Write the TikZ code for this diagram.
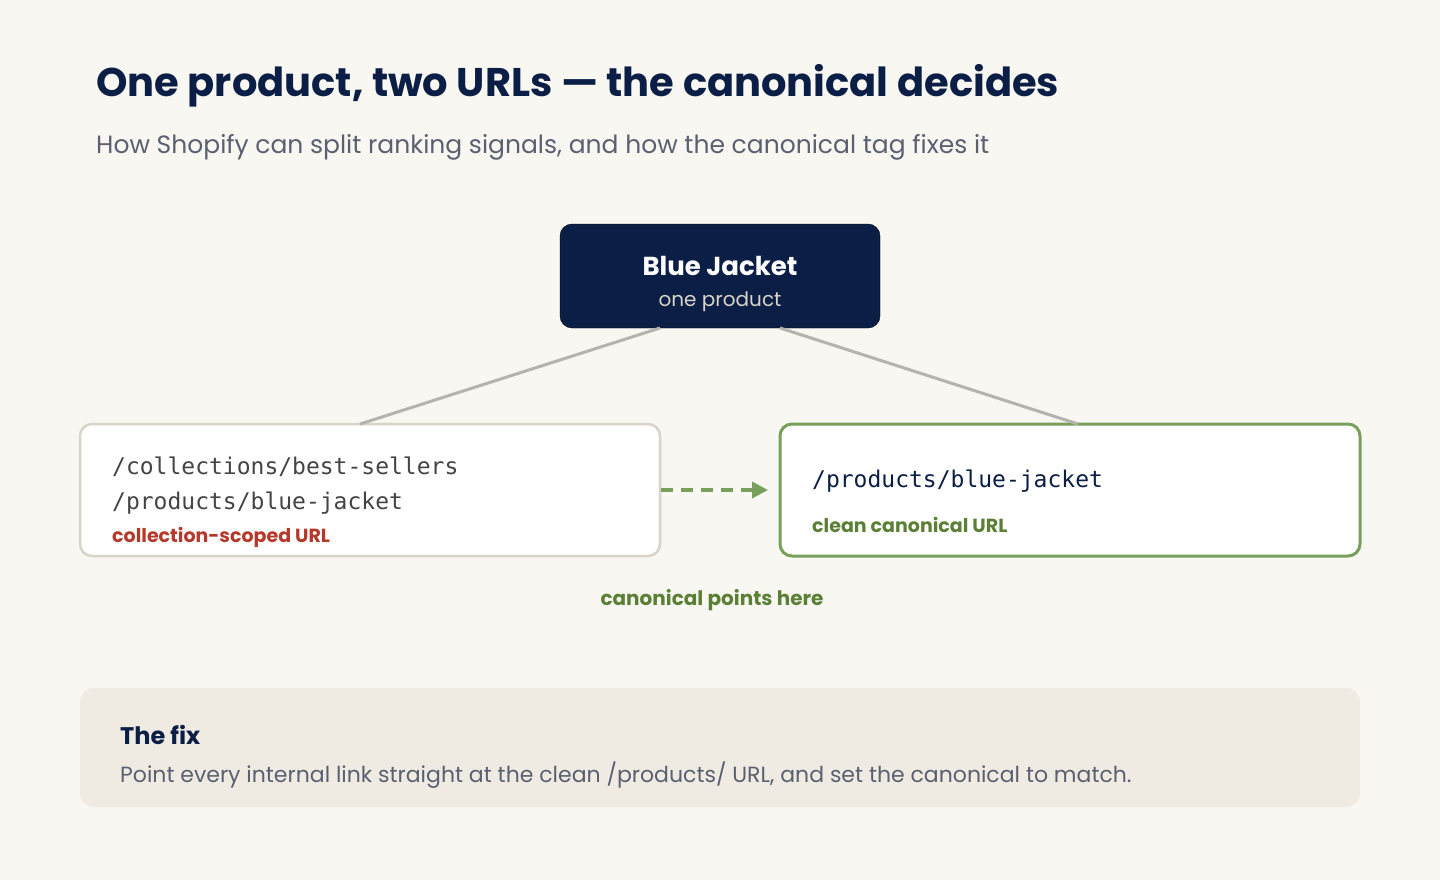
\documentclass[tikz,border=0pt]{standalone}
\usepackage{fontspec}
\setmainfont{Poppins}
\setmonofont{DejaVu Sans Mono}
\usetikzlibrary{arrows.meta}
\definecolor{bg}{HTML}{F8F7F2}
\definecolor{navy}{HTML}{0B1E45}
\definecolor{sub}{HTML}{5A6070}
\definecolor{lgray}{HTML}{B5B3AE}
\definecolor{lbord}{HTML}{D9D4C8}
\definecolor{red}{HTML}{B5392A}
\definecolor{gbord}{HTML}{77A05A}
\definecolor{gtext}{HTML}{5A7F35}
\definecolor{fixbg}{HTML}{EFEBE3}
\definecolor{mono}{HTML}{444444}
\begin{document}
\begin{tikzpicture}[x=1pt,y=-1pt,
  box/.style={rounded corners=12pt,line width=2.5pt},
  conn/.style={draw=lgray,line width=3pt},
  txt/.style={anchor=west,inner sep=0pt}]
\fill[bg] (0,0) rectangle (1440,880);
\node[txt,font=\bfseries\fontsize{40}{48}\selectfont,text=navy] (title) at (96,86) {One product, two URLs — the canonical decides};
\node[txt,font=\fontsize{25}{30}\selectfont,text=sub] (subt) at (96,147) {How Shopify can split ranking signals, and how the canonical tag fixes it};
% top node
\draw[fill=navy,rounded corners=12pt] (560,224) rectangle (880,328);
\node[font=\bfseries\fontsize{26}{30}\selectfont,text=white] (bj) at (720,266) {Blue Jacket};
\node[font=\fontsize{20}{24}\selectfont,text=lbord] (op) at (720,302) {one product};
\coordinate (tl) at (660,328); \coordinate (tr) at (780,328);
% left box
\draw[box,draw=lbord,fill=white] (80,424) rectangle (660,556);
\coordinate (lt) at (360,424); \coordinate (lr) at (661,490);
\node[txt,font=\ttfamily\fontsize{23}{28}\selectfont,text=mono] (l1) at (112,467) {/collections/best-sellers};
\node[txt,font=\ttfamily\fontsize{23}{28}\selectfont,text=mono] (l2) at (112,503) {/products/blue-jacket};
\node[txt,font=\bfseries\fontsize{19}{24}\selectfont,text=red] (l3) at (112,537) {collection-scoped URL};
% right box
\draw[box,line width=3pt,draw=gbord,fill=white] (780,424) rectangle (1360,556);
\coordinate (rt) at (1078,424); \coordinate (rl) at (768,490);
\node[txt,font=\ttfamily\fontsize{23}{28}\selectfont,text=navy] (r1) at (812,481) {/products/blue-jacket};
\node[txt,font=\bfseries\fontsize{19}{24}\selectfont,text=gtext] (r2) at (812,525) {clean canonical URL};
% connectors
\draw[conn] (tl) -- (lt);
\draw[conn] (tr) -- (rt);
\draw[draw=gbord,line width=3.5pt,dash pattern=on 12pt off 8pt,-{Triangle[length=16pt,width=16pt]}] (lr) -- (rl);
\node[font=\bfseries\fontsize{20}{24}\selectfont,text=gtext] (cp) at (712,600) {canonical points here};
% fix box
\fill[fixbg,rounded corners=14pt] (80,688) rectangle (1360,807);
\node[txt,font=\bfseries\fontsize{24}{28}\selectfont,text=navy] (fx) at (120,735) {The fix};
\node[txt,font=\fontsize{22}{26}\selectfont,text=sub] (fx2) at (120,775) {Point every internal link straight at the clean /products/ URL, and set the canonical to match.};
\end{tikzpicture}
\end{document}
